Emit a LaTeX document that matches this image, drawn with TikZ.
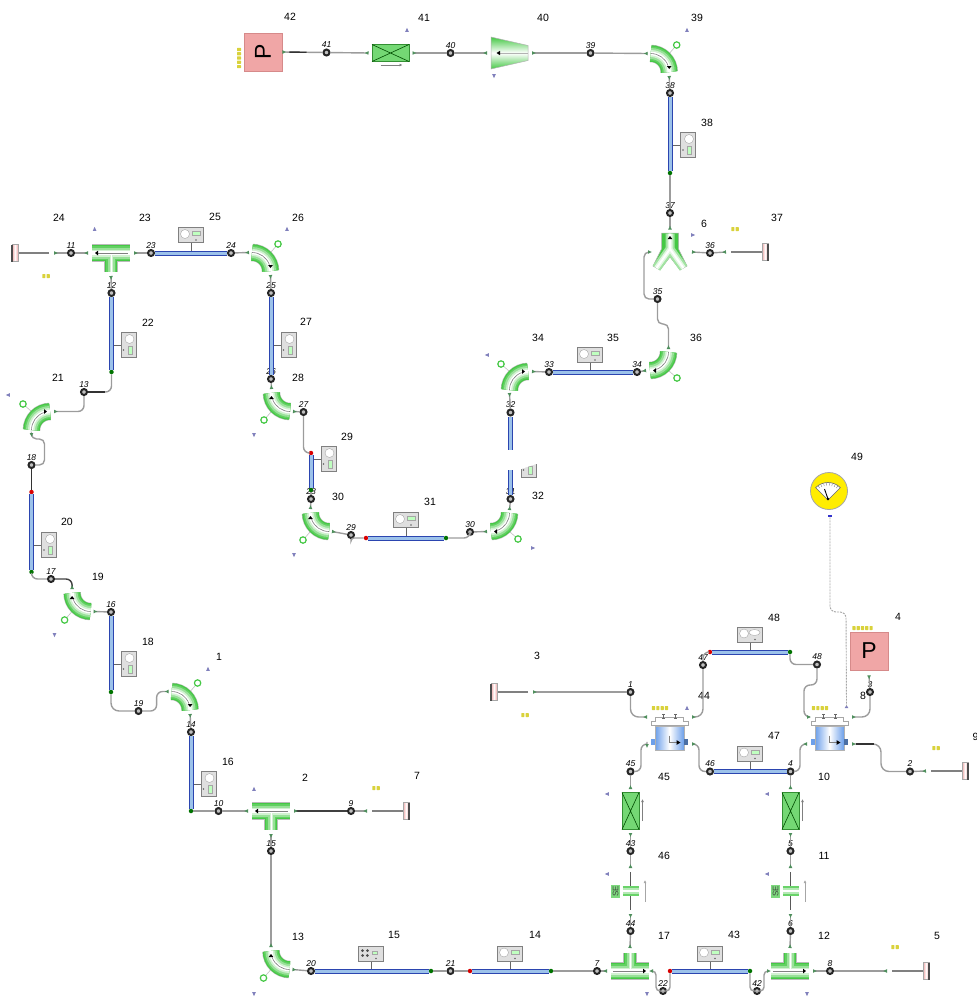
\documentclass[tikz,border=0pt]{standalone}
\usepackage{fontspec}
\setmainfont{Liberation Sans}
\usepackage{xcolor}
\usepackage{tikz}
\usetikzlibrary{arrows.meta,calc}
\definecolor{pipegreen}{HTML}{45C845}
\definecolor{tipgreen}{HTML}{4E8F5C}
\definecolor{linegray}{HTML}{9C9C9C}
\definecolor{tubeblue}{HTML}{2B45B0}
\definecolor{tubefill}{HTML}{9CC2EA}
\definecolor{hxblue}{HTML}{6C9FEA}
\definecolor{pumppink}{HTML}{F0A6A6}
\definecolor{pumpedge}{HTML}{D68A8A}
\definecolor{flagblue}{HTML}{8080BC}
\definecolor{dotyellow}{HTML}{D9D23C}
\definecolor{valvegreen}{HTML}{74D874}
\newcommand{\greenfill}[1]{\foreach \w/\c in {17.5/linegray!70,16.5/pipegreen,14/pipegreen!85!white,11/pipegreen!55!white,7/pipegreen!25!white,3.5/white}{\draw[line width=\w pt,draw=\c] #1;}}
\begin{document}
\begin{tikzpicture}[x=1pt,y=-1pt,
  num/.style={font=\fontsize{10.5}{12}\selectfont, inner sep=0pt},
  jn/.style={circle, draw=black!85, fill=gray!50, line width=2pt, minimum size=6pt, inner sep=0pt},
  jl/.style={font=\fontsize{8.5}{9}\selectfont\itshape, inner sep=0.5pt},
  pipe/.style={{Latex[reversed,length=4pt,width=4pt,color=tipgreen]}-, draw=linegray, line width=1.4pt, rounded corners=6pt},
  pipek/.style={pipe, draw=black!75},
  link/.style={draw=linegray, line width=1.4pt, rounded corners=6pt},
  hot/.style={draw=black!80, line width=1.4pt},
  tube/.style={draw=tubeblue, line width=1pt, double=tubefill, double distance=3pt},
  redend/.style={circle, fill=red!85!black, minimum size=4.5pt, inner sep=0pt},
  greenend/.style={circle, fill=green!45!black, minimum size=4.5pt, inner sep=0pt},
  pump/.style={draw=pumpedge, line width=0.8pt, fill=pumppink, minimum size=38pt, inner sep=0pt, font=\fontsize{23}{24}\selectfont},
  sig/.style={draw=gray!70, line width=0.9pt, dash pattern=on 2pt off 1pt, rounded corners=6pt},
  elbow/.pic={\begin{scope}[x=1pt,y=1pt]
    \draw[gray!50, line width=0.6pt] (19,19) -- (26,27);
    \draw[pipegreen, line width=1.2pt, fill=white] (26,27) circle (3.2);
    \greenfill{(0,18.5) arc (90:0:18.5)}
    \draw[gray, line width=0.6pt] (0,18.5) arc (90:20:18.5);
    \fill[black] (18.5,3) -- ++(-2.4,3) -- ++(4.8,0) -- cycle;
    \coordinate (-a) at (-3,18.5);
    \coordinate (-b) at (18.5,-4);
  \end{scope}},
  tee/.pic={\begin{scope}[x=1pt,y=1pt]
    \foreach \w/\c in {17.5/linegray!70,16.5/pipegreen,14/pipegreen!85!white,11/pipegreen!55!white,7/pipegreen!25!white,3.5/white}{
      \draw[line width=\w pt,draw=\c] (-19,0) -- (19,0);
      \draw[line width={max(\w-4,1)*1pt},draw=\c] (0,0) -- (0,-18.5);}
    \draw[gray, line width=0.6pt] (-13,0) -- (17,0);
    \fill[black] (-16,0) -- ++(3,2.4) -- ++(0,-4.8) -- cycle;
    \coordinate (-a) at (-23,0);
    \coordinate (-b) at (23,0);
    \coordinate (-c) at (0,-23);
  \end{scope}},
  wye/.pic={\begin{scope}[x=1pt,y=1pt]
    \draw[gray!60, line width=0.5pt, fill=pipegreen] (-8.5,0) -- (8.5,0) -- (8.5,-16) -- (17,-33) -- (10,-37) -- (0,-24) -- (-10,-37) -- (-17,-33) -- (-8.5,-16) -- cycle;
    \foreach \w/\c in {9/pipegreen!50!white,5/pipegreen!15!white,2/white}{\draw[line width=\w pt,draw=\c] (-13.5,-35) -- (0,-16) -- (13.5,-35) (0,-16) -- (0,-0.5);}
    \fill[black] (0,-3) -- ++(-2.4,-3) -- ++(4.8,0) -- cycle;
    \coordinate (-t) at (0,3.5);
    \coordinate (-l) at (-22,-19);
    \coordinate (-r) at (22,-19);
  \end{scope}},
  reducer/.pic={\begin{scope}[x=1pt,y=1pt]
    \path[draw=gray!60, line width=0.5pt, top color=pipegreen, bottom color=pipegreen, middle color=white] (-18.5,16) -- (18.5,7.5) -- (18.5,-7.5) -- (-18.5,-16) -- cycle;
    \draw[gray!60, line width=0.6pt] (-10,0) -- (18,0);
    \fill[black] (-13,0) -- ++(3.5,2.2) -- ++(0,-4.4) -- cycle;
    \coordinate (-a) at (-22.5,0);
    \coordinate (-b) at (22.5,0);
  \end{scope}},
  valve/.pic={\begin{scope}[x=1pt,y=1pt]
    \draw[draw=green!45!black!80, line width=0.7pt, fill=valvegreen] (-18.5,-8.5) rectangle (18.5,8.5);
    \draw[green!30!black, line width=0.6pt] (-18.5,-8.5) -- (18.5,8.5) (-18.5,8.5) -- (18.5,-8.5);
    \draw[-{Latex[length=3pt,width=3pt]}, gray, line width=0.6pt] (-10,-12) -- (12,-12);
    \coordinate (-a) at (-22,0);
    \coordinate (-b) at (22,0);
  \end{scope}},
  sevalve/.pic={\begin{scope}[x=1pt,y=1pt]
    \draw[black!65, line width=1.2pt] (0,19) -- (0,-19);
    \foreach \w/\c in {10/pipegreen!80!white,6/pipegreen!40!white,2/white}{\draw[line width=\w pt,draw=\c] (-8,0) -- (8,0);}
    \node[fill=pipegreen!70!white, minimum width=13pt, minimum height=9pt, inner sep=0pt, rotate=90, font=\fontsize{8}{8}\selectfont, text=black!75] (-s) at (-15,0) {SE};
    \draw[-{Latex[length=3pt,width=3pt]}, gray!70, line width=0.6pt] (14.5,-11) -- (14.5,11);
    \coordinate (-a) at (0,23);
    \coordinate (-b) at (0,-23);
  \end{scope}},
  endcap/.pic={\begin{scope}[x=1pt,y=1pt]
    \draw[gray, line width=1.4pt] (0,0) -- (31,0);
    \path[left color=pumppink, right color=pumppink, middle color=white, draw=gray!70, line width=0.4pt] (31,-8.5) rectangle (37,8.5);
    \draw[black!70, line width=1.2pt] (37,-8.5) -- (37,8.5);
    \coordinate (-a) at (-5,0);
  \end{scope}},
  gauge/.pic={\begin{scope}[x=1pt,y=1pt]
    \draw[black!60, line width=0.7pt] (0,-7.5) -- (0,-18);
    \draw[gray, line width=0.7pt, fill=gray!25] (-12.5,-7.5) rectangle (12.5,7.5);
    \draw[gray!70, line width=0.4pt, fill=white] (-6,1) circle (4.5);
    \draw[gray!70, line width=0.4pt, fill=green!25] (1.5,-0.5) rectangle (9,3.5);
    \fill[black!60] (5,-5) circle (0.8);
  \end{scope}},
  gaugeb/.pic={\begin{scope}[x=1pt,y=1pt]
    \draw[black!60, line width=0.7pt] (0,-7.5) -- (0,-18);
    \draw[gray, line width=0.7pt, fill=gray!25] (-12.5,-7.5) rectangle (12.5,7.5);
    \draw[gray!70, line width=0.4pt, fill=white] (-6,1) circle (4.5);
    \draw[gray!70, line width=0.4pt, fill=white] (4.5,2) ellipse (5.5 and 3);
    \fill[black!60] (5,-5) circle (0.8);
  \end{scope}},
  gaugef/.pic={\begin{scope}[x=1pt,y=1pt]
    \draw[black!60, line width=0.7pt] (0,-7.5) -- (0,-18);
    \draw[gray, line width=0.7pt, fill=gray!25] (-12.5,-7.5) rectangle (12.5,7.5);
    \foreach \a in {45,135,225,315}{\fill[black!70] (-6,0.5) ++(\a:3.5) circle (1.5);}
    \draw[gray!70, line width=0.4pt, fill=green!25] (1,-1) rectangle (6,2);
    \fill[black!60] (5,-5) circle (0.8);
  \end{scope}},
  exch/.pic={\begin{scope}[x=1pt,y=1pt]
    \draw[gray!70, line width=0.7pt, fill=white] (-18.5,13.5) -- (18.5,13.5) -- (18.5,17) -- (14,17) -- (14,21.5) -- (-14,21.5) -- (-14,17) -- (-18.5,17) -- cycle;
    \draw[black!60, line width=0.7pt] (-6,20) -- (-6,24) (6,20) -- (6,24) (-7.5,24) -- (-4.5,24) (4.5,24) -- (7.5,24) (-7.5,20) -- (-4.5,20) (4.5,20) -- (7.5,20);
    \path[left color=hxblue, right color=hxblue, middle color=white, draw=gray!60, line width=0.4pt] (-14.5,-11.5) rectangle (14.5,12);
    \fill[hxblue] (-18.5,-6.5) rectangle (-14.5,0);
    \fill[hxblue!70!black] (14.5,-6.5) rectangle (18.5,0);
    \draw[gray, line width=0.5pt] (0,3) -- (0,-4) -- (7,-4);
    \fill[black] (11,-4) -- ++(-4,2.4) -- ++(0,-4.8) -- cycle;
    \coordinate (-a) at (-22.5,21.5);
    \coordinate (-b) at (22.5,21.5);
    \coordinate (-c) at (-22.5,-5.5);
    \coordinate (-d) at (22.5,-5.5);
  \end{scope}},
  dial/.pic={\begin{scope}[x=1pt,y=1pt]
    \draw[gray!80!black, line width=0.6pt, fill=white] (-1,-9) -- +(45:17.5) arc (45:135:17.5) -- cycle;
    \foreach \a in {55,65,...,125}{\draw[gray, line width=0.4pt] (-1,-9) ++(\a:14.5) -- ++(\a:2.5);}
    \draw[black, line width=0.9pt] (-1,-8) -- (-4.5,2);
    \fill[black] (-1,-8) circle (1.3);
  \end{scope}},
  flag/.pic={\fill[flagblue, x=1pt, y=1pt, rotate=#1] (2.2,0) -- (-1.8,1.8) -- (-1.8,-1.8) -- cycle;},
  dots/.pic={\foreach \i in {1,...,#1}{\fill[dotyellow, x=1pt, y=1pt, rounded corners=0.5pt] ({(\i-0.5*(#1+1))*4.3-1.6},-2) rectangle ++(3.2,4);}}]
\useasboundingbox (0,0) rectangle (977,997);
\foreach \fx/\fy/\fa in {407/30/90,494/76/-90,687/30/90,693/235/0,487/355/180,533/548/0,294/555/-90,254/435/-90,287/229/90,94.6/229/90,8/395/180,54.5/635/-90,208/669/90,254/789/90,254/994/-90,647/994/-90,807/994/-90,607/794/180,767/794/180,607/874/180,767/874/180,687/708/90}
  \pic at (\fx,\fy) {flag=\fa};
\foreach \dx/\dy/\dn in {46/276/2,376/788/2,735/229/2,525/715/2,895/947/2,936/748/2,660/708/4,820/708/4,862.5/628/5}
  \pic at (\dx,\dy) {dots=\dn};
\pic[rotate=90] at (239,58) {dots=5};
\foreach \lx/\ly/\lt in {290/17/42,424/18/41,543/18/40,697/18/39,707/123/38,704/224/6,777/218/37,696/338/36,538/338/34,613/338/35,538/496/32,430/502/31,338/497/30,347/437/29,298/378/28,306/322/27,298/218/26,215/217/25,145/218/23,59/218/24,148/323/22,58/378/21,67/522/20,98/577/19,148/642/18,219/657/1,228/762/16,305/778/2,417/776/7,298/937/13,394/935/15,535/935/14,664/936/17,734/935/43,824/936/12,937/936/5,664/856/46,824/856/11,664/777/45,824/777/10,774/736/47,704/696/44,863/696/8,537/656/3,774/618/48,898/617/4,857/457/49,975.6/737/9}
  \node[num] (n\lt-\lx) at (\lx,\ly) {\lt};
\node[pump, rotate=90] (p42) at (263,52) {P};
\node[pump] (p4) at (869,651) {P};
\pic (v41) at (390.5,53) {valve};
\pic (r40) at (509.5,53) {reducer};
\pic (e39) at (650.7,72) {elbow};
\pic (y6) at (670,233) {wye};
\pic (c37) at (731,252) {endcap};
\pic[rotate=-90] (e36) at (650,352) {elbow};
\pic[rotate=90] (e34) at (528,390) {elbow};
\pic[rotate=-90] (e32) at (491,513) {elbow};
\pic[rotate=180] (e30) at (329,513) {elbow};
\pic[rotate=180] (e28) at (290,393) {elbow};
\pic (e26) at (252,271) {elbow};
\pic (t23) at (111,253) {tee};
\pic[rotate=180] (c24) at (49,253) {endcap};
\pic[rotate=90] (e21) at (50,430) {elbow};
\pic[rotate=180] (e19) at (90.6,593) {elbow};
\pic (e1) at (171.6,710) {elbow};
\pic (t2) at (271,811) {tee};
\pic (c7) at (372,811) {endcap};
\pic[rotate=180] (e13) at (289.5,951) {elbow};
\pic[rotate=180] (t17) at (630,971) {tee};
\pic[rotate=180] (t12) at (790,971) {tee};
\pic (c5) at (892,971) {endcap};
\pic[rotate=180] (c3) at (528,692) {endcap};
\pic (c9) at (931,771) {endcap};
\pic (h44) at (669.5,738.5) {exch};
\pic (h10) at (829.5,738.5) {exch};
\pic[rotate=90] (v45) at (630.5,811) {valve};
\pic[rotate=90] (v10) at (790.5,811) {valve};
\pic (s46) at (630.5,891) {sevalve};
\pic (s11) at (790.5,891) {sevalve};
\pic[rotate=-90] at (688,145) {gauge};
\pic at (191,235) {gauge};
\pic[rotate=-90] at (128.5,345) {gauge};
\pic[rotate=-90] at (288.5,345) {gauge};
\pic[rotate=-90] at (328.5,459) {gauge};
\pic at (406,520) {gauge};
\pic at (590,355) {gauge};
\pic[rotate=-90] at (528.5,465) {gauge};
\pic[rotate=-90] at (49,545) {gauge};
\pic[rotate=-90] at (128.5,664) {gauge};
\pic[rotate=-90] at (208.5,784) {gauge};
\pic at (371,953.5) {gaugef};
\pic at (510,953.5) {gauge};
\pic at (710,953.5) {gauge};
\pic at (750,753.5) {gauge};
\pic at (750,634.5) {gaugeb};
\fill[white] (500,450) -- (545,450) -- (545,461) -- (518,470) -- (500,470) -- cycle;
\node[circle, fill=yellow!95!orange, draw=gray!70, line width=0.8pt, minimum size=37pt, inner sep=0pt] (g49) at (829,491) {};
\pic at (g49) {dial};
\node[fill=blue!60!gray, minimum width=4pt, minimum height=2.5pt, inner sep=0pt] (b49) at (830,516) {};
\coordinate (m49) at (846.5,706);
\fill[flagblue] (m49) ++(0,-1) -- ++(-1.8,3) -- ++(3.6,0) -- cycle;
\node[jn, label={[jl]above:41}] (j41) at (326.5,52.5) {};
\node[jn, label={[jl]above:40}] (j40) at (450.5,53) {};
\node[jn, label={[jl]above:39}] (j39) at (590.5,53) {};
\node[jn, label={[jl]above:38}] (j38) at (670,93) {};
\node[jn, label={[jl]above:37}] (j37) at (670,213) {};
\node[jn, label={[jl]above:36}] (j36) at (710,253) {};
\node[jn, label={[jl]above:35}] (j35) at (657.5,299) {};
\node[jn, label={[jl]above:34}] (j34) at (637,372) {};
\node[jn, label={[jl]above:33}] (j33) at (549,372) {};
\node[jn, label={[jl]above:32}] (j32) at (510.5,412.5) {};
\node[jn, label={[jl]above:31}] (j31) at (510.5,499) {};
\node[jn, label={[jl]above:30}] (j30) at (470,532) {};
\node[jn, label={[jl]above:29}] (j29) at (351,535) {};
\node[jn, label={[jl]above:28}] (j28) at (311,499) {};
\node[jn, label={[jl]above:27}] (j27) at (303.5,412) {};
\node[jn, label={[jl]above:26}] (j26) at (271,379) {};
\node[jn, label={[jl]above:25}] (j25) at (271,293) {};
\node[jn, label={[jl]above:24}] (j24) at (231,253) {};
\node[jn, label={[jl]above:23}] (j23) at (151,253) {};
\node[jn, label={[jl]above:11}] (j11) at (71,253) {};
\node[jn, label={[jl]above:12}] (j12) at (111.5,293) {};
\node[jn, label={[jl]above:13}] (j13) at (84,392) {};
\node[jn, label={[jl]above:18}] (j18) at (31.5,465) {};
\node[jn, label={[jl]above:17}] (j17) at (51,579) {};
\node[jn, label={[jl]above:16}] (j16) at (111,612) {};
\node[jn, label={[jl]above:19}] (j19) at (138.5,711) {};
\node[jn, label={[jl]above:14}] (j14) at (191,732) {};
\node[jn, label={[jl]above:10}] (j10) at (218.5,811) {};
\node[jn, label={[jl]above:9}] (j9) at (351,811) {};
\node[jn, label={[jl]above:15}] (j15) at (271,851) {};
\node[jn, label={[jl]above:20}] (j20) at (311,971) {};
\node[jn, label={[jl]above:21}] (j21) at (450.5,971) {};
\node[jn, label={[jl]above:7}] (j7) at (597,971) {};
\node[jn, label={[jl]above:22}] (j22) at (663,991) {};
\node[jn, label={[jl]above:42}] (j42) at (757,991) {};
\node[jn, label={[jl]above:8}] (j8) at (830,971) {};
\node[jn, label={[jl]above:44}] (j44) at (630.5,931) {};
\node[jn, label={[jl]above:6}] (j6) at (790.5,931) {};
\node[jn, label={[jl]above:43}] (j43) at (630.5,851) {};
\node[jn, label={[jl]above:5}] (j5) at (790.5,851) {};
\node[jn, label={[jl]above:45}] (j45) at (630.5,771.5) {};
\node[jn, label={[jl]above:46}] (j46) at (710,771.5) {};
\node[jn, label={[jl]above:4}] (j4) at (790.5,771.5) {};
\node[jn, label={[jl]above:2}] (j2) at (910,771.5) {};
\node[jn, label={[jl]above:1}] (j1) at (630.5,692) {};
\node[jn, label={[jl]above:47}] (j47) at (703,665) {};
\node[jn, label={[jl]above:48}] (j48) at (817,664.5) {};
\node[jn, label={[jl]above:3}] (j3) at (870,692) {};
\node[greenend] (g38) at (670,173) {};
\node[greenend] (g22) at (111.5,372) {};
\node[redend] (r29) at (311,453) {};
\node[greenend] (g29) at (311,490) {};
\node[redend] (r31) at (366,538) {};
\node[greenend] (g31) at (446,538) {};
\node[redend] (r20) at (31.5,492) {};
\node[greenend] (g20) at (31.5,572) {};
\node[greenend] (g18) at (111,692) {};
\node[greenend] (g16) at (191,811) {};
\node[greenend] (g15) at (431,971) {};
\node[redend] (r14) at (470,971) {};
\node[greenend] (g14) at (551,971) {};
\node[redend] (r43) at (670,971) {};
\node[greenend] (g43) at (750,971) {};
\node[redend] (r48) at (710,652) {};
\node[greenend] (g48) at (790,652) {};
\coordinate (c32a) at (510.5,450);
\coordinate (c32b) at (510.5,470);
\draw[tube] (j38) -- (g38);
\draw[tube] (j33) -- (j34);
\draw[tube] (j32) -- (c32a);
\draw[tube] (c32b) -- (j31);
\draw[tube] (r31) -- (g31);
\draw[tube] (r29) -- (g29);
\draw[tube] (j25) -- (j26);
\draw[tube] (j23) -- (j24);
\draw[tube] (j12) -- (g22);
\draw[tube] (r20) -- (g20);
\draw[tube] (j16) -- (g18);
\draw[tube] (j14) -- (g16);
\draw[tube] (j20) -- (g15);
\draw[tube] (r14) -- (g14);
\draw[tube] (r43) -- (g43);
\draw[tube] (r48) -- (g48);
\draw[tube] (j46) -- (j4);
\draw[pipe] (p42.south) -- (j41);
\draw[hot, shorten <=7pt, shorten >=16pt] (p42.south) -- (j41);
\draw[pipe] (v41-a) -- (j41);
\draw[pipe] (v41-b) -- (j40);
\draw[pipe] (r40-a) -- (j40);
\draw[pipe] (r40-b) -- (j39);
\draw[pipe] (e39-a) -- (j39);
\draw[pipe] (e39-b) -- (j38);
\draw[link] (g38) -- (j37);
\draw[pipe] (y6-t) -- (j37);
\draw[pipe, rounded corners=5pt] (y6-l) -- ++(-4,0) |- (j35);
\draw[pipe] (y6-r) -- (j36);
\draw[pipe] (c37-a) -- (j36);
\draw[pipe, rounded corners=5pt] (e36-a) -- ++(0,-25) -| (j35);
\draw[pipe] (e36-b) -- (j34);
\draw[pipe] (e34-b) -- (j33);
\draw[pipe] (e34-a) -- (j32);
\draw[pipe] (e32-a) -- (j31);
\draw[pipe] (e32-b) -- (j30);
\draw[link] (j30) |- (g31);
\draw[link, rounded corners=3pt] (j29) |- (r31);
\draw[pipe] (e30-a) -- (j29);
\draw[pipe] (e30-b) -- (j28);
\draw[link] (j28) -- (g29);
\draw[link] (j27) |- (r29);
\draw[pipe] (e28-a) -- (j27);
\draw[pipe] (e28-b) -- (j26);
\draw[pipe] (e26-b) -- (j25);
\draw[pipe] (e26-a) -- (j24);
\draw[pipe] (t23-b) -- (j23);
\draw[pipe] (t23-a) -- (j11);
\draw[pipe] (c24-a) -- (j11);
\draw[pipe] (t23-c) -- (j12);
\draw[link] (g22) |- (j13);
\draw[hot] (j13) -- ++(21,0);
\draw[pipe] (e21-b) -| (j13);
\draw[pipe, rounded corners=5pt] (e21-a) |- ++(13,6) |- (j18);
\draw[hot] (j18) -- (r20);
\draw[link] (g20) |- (j17);
\draw[pipek] (e19-b) |- (j17);
\draw[pipe] (e19-a) -- (j16);
\draw[link, rounded corners=8pt] (g18) |- (j19);
\draw[pipe] (e1-a) -- ++(-12,0) |- (j19);
\draw[pipe] (e1-b) -- (j14);
\draw[link] (g16) -- (j10);
\draw[pipe] (t2-a) -- (j10);
\draw[pipek] (t2-b) -- (j9);
\draw[pipe] (c7-a) -- (j9);
\draw[pipe] (t2-c) -- (j15);
\draw[pipe] (e13-b) -- (j15);
\draw[pipe] (e13-a) -- (j20);
\draw[link] (g15) -- (j21);
\draw[link] (j21) -- (r14);
\draw[link] (g14) -- (j7);
\draw[pipe] (t17-b) -- (j7);
\draw[pipe] (t17-c) -- (j44);
\draw[pipe, rounded corners=4pt] (t17-a) -- ++(3,0) |- (j22);
\draw[link, rounded corners=4pt] (j22) -| (r43);
\draw[link, rounded corners=4pt] (g43) |- (j42);
\draw[pipe, rounded corners=4pt] (t12-b) -- ++(-3,0) |- (j42);
\draw[pipe] (t12-a) -- (j8);
\draw[pipe] (c5-a) -- (j8);
\draw[pipe] (t12-c) -- (j6);
\draw[pipe] (s46-b) -- (j44);
\draw[pipe] (s46-a) -- (j43);
\draw[pipe] (v45-a) -- (j43);
\draw[pipe] (v45-b) -- (j45);
\draw[pipe] (s11-b) -- (j6);
\draw[pipe] (s11-a) -- (j5);
\draw[pipe] (v10-a) -- (j5);
\draw[pipe] (v10-b) -- (j4);
\draw[pipe] (c3-a) -- (j1);
\draw[pipe, rounded corners=8pt] (h44-a) -| (j1);
\draw[pipe, rounded corners=8pt] (h44-b) -| (j47);
\draw[pipe] (h44-c) -- ++(-6,0) |- (j45);
\draw[pipe] (h44-d) -- ++(7,0) |- (j46);
\draw[link] (j47) |- (r48);
\draw[link] (g48) |- (j48);
\draw[pipe] (h10-a) -- ++(-3,0) -- ++(0,-32) -| (j48);
\draw[pipe] (h10-c) -- ++(-7,0) |- (j4);
\draw[pipe, rounded corners=8pt] (h10-b) -| (j3);
\draw[pipe] (p4.south) ++(0,5) -- (j3);
\draw[pipe, rounded corners=8pt] (h10-d) -- ++(29,0) |- (j2);
\draw[hot] (h10-d) ++(4,0) -- ++(18,0);
\draw[pipe] (c9-a) -- (j2);
\draw[sig] (b49) |- ++(16,96) -- (m49);
\end{tikzpicture}
\end{document}
